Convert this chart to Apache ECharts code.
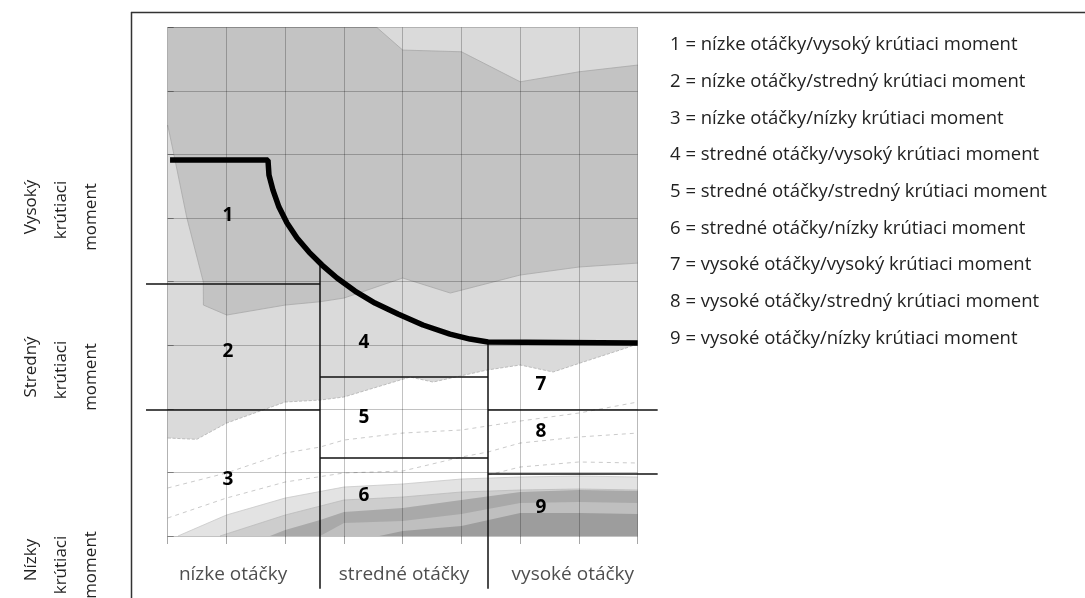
<!DOCTYPE html>
<html>
<head>
<meta charset="utf-8">
<script src="https://cdn.jsdelivr.net/npm/echarts@6/dist/echarts.min.js"></script>
<style>
html,body{margin:0;padding:0;background:#fff;}
#chart{width:1085px;height:598px;}
</style>
</head>
<body>
<div id="chart"></div>
<script>
// ---- data (x: engine speed units 0..8, y: torque units 0..8) ----
const topBoundary = [[0,8],[3.557,8],[4,7.642],[5,7.615],[6,7.143],[7,7.30],[8,7.406]];
const darkLowerBoundary = [[0,6.462],[0.09,6.069],[0.323,5.016],[0.606,3.998],[0.608,3.632],[1.005,3.475],[2,3.632],[2.594,3.684],[3,3.742],[4,4.057],[4.81,3.821],[6,4.104],[7,4.230],[8,4.292]];
const grayLowerBoundary = [[0,1.541],[0.494,1.52],[1.005,1.777],[2,2.107],[2.594,2.138],[3,2.186],[4.128,2.5],[4.517,2.421],[5.436,2.61],[6,2.689],[6.56,2.579],[7.02,2.72],[7.7,2.925],[8,3.019]];
const band1 = [[0.175,0],[1,0.330],[2,0.597],[3,0.770],[4,0.818],[5,0.896],[6,0.928],[7,0.943],[8,0.928]];
const band2 = [[0.89,0],[2,0.330],[3,0.566],[4,0.613],[5,0.692],[6,0.723],[7,0.739],[8,0.723]];
const band3 = [[1.74,0],[2,0.094],[2.594,0.252],[3,0.377],[4,0.440],[5,0.566],[6,0.692],[7,0.723],[8,0.708]];
const band4 = [[2.594,0],[3,0.204],[4,0.236],[5,0.346],[6,0.519],[7,0.535],[8,0.519]];
const band5 = [[3.6,0],[4,0.079],[5,0.157],[6,0.362],[7,0.362],[8,0.346]];
const contour1 = [[0,0.755],[1,0.991],[2,1.305],[2.594,1.399],[3,1.509],[4,1.619],[5,1.667],[6,1.808],[7,1.934],[8,2.107]];
const contour2 = [[0,0.283],[1,0.597],[2,0.849],[3,0.991],[4,1.022],[5,1.242],[5.452,1.321],[6,1.462],[7,1.557],[8,1.619]];
const contour3 = [[5.452,0.959],[6,1.085],[7,1.164],[8,1.148]];
const fullLoadCurve = [[0.04,5.912],[1.707,5.912],[1.724,5.676],[1.792,5.440],[1.894,5.173],[2.031,4.921],[2.201,4.686],[2.405,4.465],[2.627,4.261],[2.882,4.057],[3.188,3.852],[3.528,3.664],[3.920,3.491],[4.345,3.318],[4.805,3.176],[5.145,3.097],[5.452,3.050],[8,3.035]];
const speedBounds = [-0.369, 2.594, 5.452, 8.34];
const speedDividerTops = [4.245, 3.035];
const dividerBottom = -0.83;
const torqueSplits = [[3.962, 1.989], [2.5, 1.234], [1.981, 0.975]];
const regionNames = ['1','2','3','4','5','6','7','8','9'];
const regionX = [1.026,1.026,1.026,3.34,3.34,3.34,6.355,6.355,6.355];
const regionY = [5.031,2.893,0.880,3.035,1.855,0.629,2.374,1.635,0.440];
const speedLabels = ['nízke otáčky','stredné otáčky','vysoké otáčky'];
const speedLabelY = -0.613;
const torqueLabels = [['Vysoký','krútiaci','moment'],['Stredný','krútiaci','moment'],['Nízky','krútiaci','moment']];
const legendLines = [
  '1 = nízke otáčky/vysoký krútiaci moment',
  '2 = nízke otáčky/stredný krútiaci moment',
  '3 = nízke otáčky/nízky krútiaci moment',
  '4 = stredné otáčky/vysoký krútiaci moment',
  '5 = stredné otáčky/stredný krútiaci moment',
  '6 = stredné otáčky/nízky krútiaci moment',
  '7 = vysoké otáčky/vysoký krútiaci moment',
  '8 = vysoké otáčky/stredný krútiaci moment',
  '9 = vysoké otáčky/nízky krútiaci moment'
];

const FONT = '"Open Sans"';
const chart = echarts.init(document.getElementById('chart'), null, {renderer:'canvas'});

function area(name, data, color, lineColor, dashed) {
  return {
    name, type:'line', data, symbol:'none', silent:true, z:2,
    lineStyle:{color: lineColor || color, width: lineColor ? 0.8 : 0, type: dashed ? 'dashed' : 'solid'},
    areaStyle:{color, opacity:1, origin:'start'}
  };
}
function dashLine(name, data) {
  return {name, type:'line', data, symbol:'none', silent:true, z:2,
    lineStyle:{color:'#bdbdbd', width:0.8, type:[4,4]}};
}

const dividerSegs = [];
for (let i = 0; i < 2; i++) {
  dividerSegs.push({coords:[[speedBounds[i+1], speedDividerTops[i]],[speedBounds[i+1], dividerBottom]]});
}
for (let i = 0; i < 3; i++) {
  torqueSplits[i].forEach(t => dividerSegs.push({coords:[[speedBounds[i], t],[speedBounds[i+1], t]]}));
}

const graphics = [
  {type:'line', shape:{x1:131, y1:12.5, x2:1085, y2:12.5}, style:{stroke:'#333', lineWidth:1.5}, z:20},
  {type:'line', shape:{x1:131.5, y1:12, x2:131.5, y2:598}, style:{stroke:'#333', lineWidth:1.5}, z:20}
];
const torqueLineY = [[207, 210, 217], [367, 370, 377], [560, 565, 565]];
const lineX = [31, 61, 91];
torqueLabels.forEach((lines, i) => {
  lines.forEach((t, j) => {
    graphics.push({
      type:'text', x:lineX[j], y:torqueLineY[i][j], rotation:Math.PI/2, z:20,
      style:{text: t, font:'17px ' + FONT, fill:'#222', align:'center', verticalAlign:'middle'}
    });
  });
});
legendLines.forEach((t, i) => {
  graphics.push({
    type:'text', x:670, y:45 + i*36.7, z:20,
    style:{text:t, font:'18.5px ' + FONT, fill:'#222', align:'left', verticalAlign:'middle'}
  });
});

const option = {
  animation:false,
  backgroundColor:'#fff',
  grid:{left:167.7, right:447.3, top:27.3, bottom:62},
  xAxis:{type:'value', min:0, max:8, interval:1, z:5,
    axisLine:{show:false},
    axisTick:{show:true, length:8, lineStyle:{color:'rgba(0,0,0,0.35)'}},
    axisLabel:{show:false},
    splitLine:{show:true, lineStyle:{color:'rgba(0,0,0,0.24)', width:1}}},
  yAxis:{type:'value', min:0, max:8, interval:1, position:'right', z:5,
    axisLine:{show:false},
    axisTick:{show:true, length:6, lineStyle:{color:'rgba(0,0,0,0.35)'}},
    axisLabel:{show:false},
    splitLine:{show:true, lineStyle:{color:'rgba(0,0,0,0.24)', width:1}}},
  series:[
    area('light', [[0,8],[8,8]], '#dadada'),
    area('dark', topBoundary, '#c3c3c3', '#a8a8a8'),
    area('lightLower', darkLowerBoundary, '#dadada', '#a8a8a8'),
    area('white', grayLowerBoundary, '#ffffff', '#b0b0b0', true),
    dashLine('c1', contour1),
    dashLine('c2', contour2),
    dashLine('c3', contour3),
    area('b1', band1, '#e3e3e3', '#c8c8c8'),
    area('b2', band2, '#cdcdcd', '#bbbbbb'),
    area('b3', band3, '#a9a9a9'),
    area('b4', band4, '#bfbfbf'),
    area('b5', band5, '#9d9d9d'),
    {name:'fullLoad', type:'line', data:fullLoadCurve, symbol:'none', z:10, silent:true,
      lineStyle:{color:'#000', width:5.5}},
    {name:'dividers', type:'lines', coordinateSystem:'cartesian2d', data:dividerSegs, z:10, clip:false, silent:true,
      lineStyle:{color:'#111', width:1.5, opacity:1}},
    {name:'regions', type:'scatter', symbolSize:1, z:11, silent:true,
      itemStyle:{color:'rgba(0,0,0,0)'},
      data: regionNames.map((n,i)=>({name:n, value:[regionX[i], regionY[i]]})),
      label:{show:true, position:'inside', formatter:p=>p.name, fontFamily:'Open Sans', fontWeight:'bold', fontSize:19, color:'#000', opacity:1, textBorderWidth:0}},
    {name:'speedLabels', type:'scatter', symbolSize:1, z:11, silent:true, clip:false,
      itemStyle:{color:'rgba(0,0,0,0)'},
      data: speedLabels.map((n,i)=>({name:n, value:[(speedBounds[i]+speedBounds[i+1])/2, speedLabelY]})),
      label:{show:true, position:'inside', formatter:p=>p.name, fontFamily:'Open Sans', fontSize:19, color:'#222', textBorderWidth:0}}
  ],
  graphic: graphics
};
chart.setOption(option);
</script>
</body>
</html>
